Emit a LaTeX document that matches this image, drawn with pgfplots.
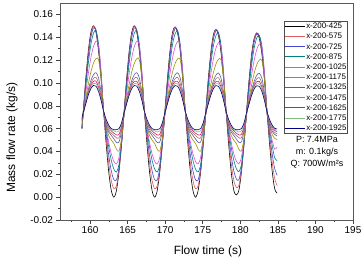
\documentclass[border=0pt]{standalone}
\usepackage{fontspec}
\setmainfont{Liberation Sans}
\usepackage{pgfplots}
\usepackage{pgfplotstable}
\pgfplotsset{compat=1.18}

\definecolor{c1}{RGB}{0,0,0}
\definecolor{c2}{RGB}{225,90,90}
\definecolor{c3}{RGB}{70,70,210}
\definecolor{c4}{RGB}{0,128,128}
\definecolor{c5}{RGB}{220,80,220}
\definecolor{c6}{RGB}{150,150,0}
\definecolor{c7}{RGB}{90,90,160}
\definecolor{c8}{RGB}{170,110,110}
\definecolor{c9}{RGB}{220,20,110}
\definecolor{c10}{RGB}{130,190,130}
\definecolor{c11}{RGB}{0,0,128}

\pgfplotstableread{
t a b c d e f g h i j k
158.92 0.0604 0.0600 0.0598 0.0603 0.0620 0.0622 0.0653 0.0665 0.0675 0.0685 0.0690
159.09 0.0750 0.0740 0.0735 0.0730 0.0725 0.0720 0.0725 0.0730 0.0730 0.0735 0.0740
159.43 0.1037 0.1011 0.0996 0.0964 0.0914 0.0866 0.0841 0.0833 0.0827 0.0822 0.0818
159.77 0.1280 0.1254 0.1228 0.1174 0.1081 0.0991 0.0942 0.0925 0.0913 0.0904 0.0894
160.11 0.1443 0.1424 0.1397 0.1337 0.1220 0.1096 0.1021 0.0996 0.0978 0.0964 0.0950
160.45 0.1500 0.1498 0.1482 0.1435 0.1318 0.1172 0.1072 0.1039 0.1014 0.0996 0.0978
160.79 0.1443 0.1460 0.1465 0.1457 0.1366 0.1213 0.1090 0.1049 0.1015 0.0994 0.0972
161.13 0.1280 0.1302 0.1317 0.1340 0.1330 0.1204 0.1044 0.0999 0.0965 0.0945 0.0926
161.47 0.1037 0.1052 0.1063 0.1084 0.1102 0.1036 0.0920 0.0891 0.0870 0.0858 0.0847
161.81 0.0750 0.0750 0.0750 0.0750 0.0750 0.0750 0.0750 0.0750 0.0750 0.0750 0.0750
162.15 0.0463 0.0507 0.0546 0.0586 0.0608 0.0620 0.0630 0.0650 0.0660 0.0670 0.0680
162.49 0.0220 0.0296 0.0365 0.0438 0.0480 0.0540 0.0570 0.0590 0.0610 0.0620 0.0630
162.83 0.0057 0.0145 0.0229 0.0321 0.0378 0.0500 0.0540 0.0560 0.0580 0.0590 0.0600
163.17 0.0000 0.0074 0.0153 0.0246 0.0313 0.0470 0.0510 0.0540 0.0560 0.0580 0.0590
163.51 0.0057 0.0099 0.0150 0.0220 0.0290 0.0420 0.0480 0.0520 0.0545 0.0570 0.0590
163.85 0.0220 0.0235 0.0259 0.0288 0.0349 0.0403 0.0483 0.0520 0.0550 0.0580 0.0600
164.19 0.0463 0.0458 0.0467 0.0475 0.0510 0.0514 0.0577 0.0600 0.0620 0.0640 0.0650
164.53 0.0750 0.0740 0.0735 0.0730 0.0725 0.0720 0.0725 0.0730 0.0730 0.0735 0.0740
164.87 0.1037 0.1011 0.0996 0.0964 0.0914 0.0866 0.0841 0.0833 0.0827 0.0822 0.0818
165.21 0.1280 0.1254 0.1228 0.1174 0.1081 0.0991 0.0942 0.0925 0.0913 0.0904 0.0894
165.55 0.1443 0.1424 0.1397 0.1337 0.1220 0.1096 0.1021 0.0996 0.0978 0.0964 0.0950
165.89 0.1500 0.1498 0.1482 0.1435 0.1318 0.1172 0.1072 0.1039 0.1014 0.0996 0.0978
166.22 0.1443 0.1460 0.1465 0.1457 0.1366 0.1213 0.1090 0.1049 0.1015 0.0994 0.0972
166.56 0.1280 0.1302 0.1317 0.1340 0.1330 0.1204 0.1044 0.0999 0.0965 0.0945 0.0926
166.90 0.1037 0.1052 0.1063 0.1084 0.1102 0.1036 0.0920 0.0891 0.0870 0.0858 0.0847
167.24 0.0750 0.0750 0.0750 0.0750 0.0750 0.0750 0.0750 0.0750 0.0750 0.0750 0.0750
167.58 0.0463 0.0507 0.0546 0.0586 0.0608 0.0620 0.0630 0.0650 0.0660 0.0670 0.0680
167.92 0.0220 0.0296 0.0365 0.0438 0.0480 0.0540 0.0570 0.0590 0.0610 0.0620 0.0630
168.26 0.0057 0.0145 0.0229 0.0321 0.0378 0.0500 0.0540 0.0560 0.0580 0.0590 0.0600
168.60 0.0000 0.0074 0.0153 0.0246 0.0313 0.0470 0.0510 0.0540 0.0560 0.0580 0.0590
168.94 0.0057 0.0099 0.0150 0.0220 0.0290 0.0420 0.0480 0.0520 0.0545 0.0570 0.0590
169.28 0.0220 0.0235 0.0259 0.0288 0.0349 0.0403 0.0483 0.0520 0.0550 0.0580 0.0600
169.62 0.0463 0.0458 0.0467 0.0475 0.0510 0.0514 0.0577 0.0600 0.0620 0.0640 0.0650
169.96 0.0750 0.0740 0.0735 0.0730 0.0725 0.0720 0.0725 0.0730 0.0730 0.0735 0.0740
170.30 0.1037 0.1011 0.0996 0.0964 0.0914 0.0866 0.0841 0.0833 0.0827 0.0822 0.0818
170.64 0.1280 0.1254 0.1228 0.1174 0.1081 0.0991 0.0942 0.0925 0.0913 0.0904 0.0894
170.98 0.1443 0.1424 0.1397 0.1337 0.1220 0.1096 0.1021 0.0996 0.0978 0.0964 0.0950
171.32 0.1490 0.1490 0.1474 0.1430 0.1315 0.1170 0.1071 0.1038 0.1013 0.0995 0.0977
171.66 0.1433 0.1452 0.1458 0.1452 0.1363 0.1211 0.1089 0.1048 0.1014 0.0993 0.0971
172.00 0.1280 0.1302 0.1317 0.1340 0.1330 0.1204 0.1044 0.0999 0.0965 0.0945 0.0926
172.34 0.1037 0.1052 0.1063 0.1084 0.1102 0.1036 0.0920 0.0891 0.0870 0.0858 0.0847
172.68 0.0750 0.0750 0.0750 0.0750 0.0750 0.0750 0.0750 0.0750 0.0750 0.0750 0.0750
173.02 0.0463 0.0507 0.0546 0.0586 0.0608 0.0620 0.0630 0.0650 0.0660 0.0670 0.0680
173.36 0.0220 0.0296 0.0365 0.0438 0.0480 0.0540 0.0570 0.0590 0.0610 0.0620 0.0630
173.70 0.0057 0.0145 0.0229 0.0321 0.0378 0.0500 0.0540 0.0560 0.0580 0.0590 0.0600
174.04 0.0000 0.0074 0.0153 0.0246 0.0313 0.0470 0.0510 0.0540 0.0560 0.0580 0.0590
174.38 0.0057 0.0099 0.0150 0.0220 0.0290 0.0420 0.0480 0.0520 0.0545 0.0570 0.0590
174.72 0.0220 0.0235 0.0259 0.0288 0.0349 0.0403 0.0483 0.0520 0.0550 0.0580 0.0600
175.06 0.0463 0.0458 0.0467 0.0475 0.0510 0.0514 0.0577 0.0600 0.0620 0.0640 0.0650
175.40 0.0750 0.0740 0.0735 0.0730 0.0725 0.0720 0.0725 0.0730 0.0730 0.0735 0.0740
175.74 0.1037 0.1011 0.0996 0.0964 0.0914 0.0866 0.0841 0.0833 0.0827 0.0822 0.0818
176.08 0.1270 0.1246 0.1221 0.1169 0.1078 0.0989 0.0941 0.0924 0.0912 0.0903 0.0893
176.42 0.1423 0.1406 0.1381 0.1325 0.1212 0.1092 0.1019 0.0995 0.0977 0.0963 0.0949
176.76 0.1470 0.1470 0.1456 0.1415 0.1305 0.1166 0.1069 0.1037 0.1013 0.0995 0.0977
177.09 0.1415 0.1434 0.1442 0.1438 0.1353 0.1207 0.1087 0.1047 0.1014 0.0993 0.0971
177.43 0.1268 0.1292 0.1309 0.1333 0.1325 0.1202 0.1043 0.0998 0.0965 0.0945 0.0926
177.77 0.1037 0.1052 0.1063 0.1084 0.1102 0.1036 0.0920 0.0891 0.0870 0.0858 0.0847
178.11 0.0750 0.0750 0.0750 0.0750 0.0750 0.0750 0.0750 0.0750 0.0750 0.0750 0.0750
178.45 0.0463 0.0507 0.0546 0.0586 0.0608 0.0620 0.0630 0.0650 0.0660 0.0670 0.0680
178.79 0.0220 0.0296 0.0365 0.0438 0.0480 0.0540 0.0570 0.0590 0.0610 0.0620 0.0630
179.13 0.0060 0.0148 0.0232 0.0324 0.0380 0.0500 0.0540 0.0560 0.0580 0.0590 0.0600
179.47 0.0020 0.0085 0.0160 0.0250 0.0316 0.0470 0.0510 0.0540 0.0560 0.0580 0.0590
179.81 0.0060 0.0102 0.0152 0.0222 0.0292 0.0420 0.0480 0.0520 0.0545 0.0570 0.0590
180.15 0.0220 0.0235 0.0259 0.0288 0.0349 0.0403 0.0483 0.0520 0.0550 0.0580 0.0600
180.49 0.0463 0.0458 0.0467 0.0475 0.0510 0.0514 0.0577 0.0600 0.0620 0.0640 0.0650
180.83 0.0750 0.0740 0.0735 0.0730 0.0725 0.0720 0.0725 0.0730 0.0730 0.0735 0.0740
181.17 0.1030 0.1005 0.0991 0.0960 0.0911 0.0864 0.0840 0.0832 0.0826 0.0821 0.0817
181.51 0.1255 0.1232 0.1208 0.1158 0.1071 0.0986 0.0939 0.0923 0.0911 0.0902 0.0892
181.85 0.1393 0.1379 0.1357 0.1307 0.1200 0.1086 0.1016 0.0993 0.0976 0.0962 0.0948
182.19 0.1437 0.1440 0.1430 0.1395 0.1293 0.1160 0.1067 0.1036 0.1012 0.0994 0.0976
182.53 0.1390 0.1405 0.1415 0.1415 0.1340 0.1200 0.1084 0.1046 0.1013 0.0992 0.0970
182.87 0.1255 0.1280 0.1298 0.1323 0.1318 0.1198 0.1042 0.0998 0.0965 0.0945 0.0926
183.21 0.1030 0.1046 0.1058 0.1080 0.1098 0.1034 0.0919 0.0890 0.0870 0.0858 0.0847
183.55 0.0750 0.0750 0.0750 0.0750 0.0750 0.0750 0.0750 0.0750 0.0750 0.0750 0.0750
183.89 0.0470 0.0512 0.0552 0.0592 0.0615 0.0625 0.0633 0.0652 0.0662 0.0671 0.0681
184.23 0.0235 0.0312 0.0385 0.0458 0.0500 0.0552 0.0578 0.0596 0.0614 0.0623 0.0632
184.57 0.0075 0.0165 0.0252 0.0345 0.0420 0.0515 0.0550 0.0567 0.0585 0.0594 0.0603
184.91 0.0035 0.0100 0.0190 0.0320 0.0440 0.0505 0.0535 0.0555 0.0572 0.0588 0.0598
}\data

\begin{document}
\begin{tikzpicture}
\useasboundingbox (-60bp,-41bp) rectangle (302bp,220bp);
\begin{axis}[
  at={(0,0)}, anchor=south west,
  scale only axis, width=293bp, height=217bp,
  xmin=156, xmax=195, ymin=-0.02, ymax=0.17,
  xtick={160,165,170,175,180,185,190,195},
  ytick={-0.02,0,0.02,0.04,0.06,0.08,0.10,0.12,0.14,0.16},
  minor xtick={157.5,162.5,167.5,172.5,177.5,182.5,187.5,192.5},
  minor ytick={-0.01,0.01,0.03,0.05,0.07,0.09,0.11,0.13,0.15},
  xtick pos=bottom, ytick pos=left,
  tick align=outside,
  major tick length=3.5bp, minor tick length=2bp,
  tick style={color=black!75, line width=0.5pt},
  axis line style={black!65, line width=0.6pt},
  /pgf/number format/assume math mode=true,
  xticklabel style={/pgf/number format/fixed, /pgf/number format/precision=0},
  yticklabel style={/pgf/number format/fixed, /pgf/number format/fixed zerofill, /pgf/number format/precision=2},
  ticklabel style={font=\fontsize{10}{12}\selectfont},
  xlabel={Flow time (s)}, ylabel={Mass flow rate (kg/s)},
  label style={font=\fontsize{12}{14}\selectfont},
  xlabel style={at={(axis description cs:0.505,-0.147)}, anchor=center},
  ylabel style={at={(axis description cs:-0.164,0.38)}, anchor=center},
  legend style={at={(axis description cs:0.982,0.918)}, anchor=north east,
    draw=black!70, line width=0.5pt, font=\fontsize{8}{8}\selectfont,
    inner xsep=0.5pt, inner ysep=1pt,
    nodes={inner sep=0.4pt, text height=6.3bp, text depth=1.5bp},
    row sep=1.6bp, cells={anchor=west}},
  legend image code/.code={\draw[#1, line width=1pt] (0bp,0bp) -- (20bp,0bp);},
  every axis plot/.append style={line width=0.6pt, smooth},
]
\addplot[c1] table[x=t,y=a] {\data}; \addlegendentry{x-200-425}
\addplot[c2] table[x=t,y=b] {\data}; \addlegendentry{x-200-575}
\addplot[c3] table[x=t,y=c] {\data}; \addlegendentry{x-200-725}
\addplot[c4] table[x=t,y=d] {\data}; \addlegendentry{x-200-875}
\addplot[c5] table[x=t,y=e] {\data}; \addlegendentry{x-200-1025}
\addplot[c6] table[x=t,y=f] {\data}; \addlegendentry{x-200-1175}
\addplot[c7] table[x=t,y=g] {\data}; \addlegendentry{x-200-1325}
\addplot[c8] table[x=t,y=h] {\data}; \addlegendentry{x-200-1475}
\addplot[c9] table[x=t,y=i] {\data}; \addlegendentry{x-200-1625}
\addplot[c10] table[x=t,y=j] {\data}; \addlegendentry{x-200-1775}
\addplot[c11] table[x=t,y=k] {\data}; \addlegendentry{x-200-1925}
\node[font=\fontsize{9}{9}\selectfont] at (rel axis cs:0.877,0.370) {P: 7.4MPa};
\node[font=\fontsize{9}{9}\selectfont] at (rel axis cs:0.877,0.314) {m: 0.1kg/s};
\node[font=\fontsize{9}{9}\selectfont] at (rel axis cs:0.877,0.256) {Q: 700W/m²s};
\end{axis}
\end{tikzpicture}
\end{document}
